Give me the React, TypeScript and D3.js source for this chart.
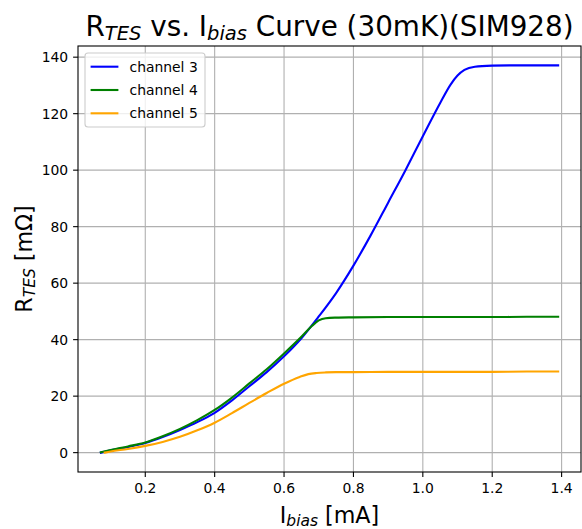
import React from "react";
import * as d3 from "d3";

// ---- data ----
const ibias3 = [0.072, 0.1, 0.15, 0.2, 0.25, 0.3, 0.35, 0.4, 0.45, 0.5, 0.55, 0.6, 0.65, 0.7, 0.75, 0.8, 0.85, 0.9, 0.95, 1.0, 1.05, 1.08, 1.1, 1.12, 1.15, 1.2, 1.25, 1.3, 1.35, 1.39];
const rtes3 = [0.0, 0.8, 2.0, 3.4, 5.5, 8.0, 10.8, 14.1, 18.5, 23.5, 28.5, 34.1, 40.5, 48.2, 56.5, 66.2, 77.0, 88.5, 100.0, 112.0, 123.8, 130.3, 133.5, 135.5, 136.6, 137.0, 137.1, 137.1, 137.1, 137.1];

const ibias4 = [0.072, 0.1, 0.15, 0.2, 0.25, 0.3, 0.35, 0.4, 0.45, 0.5, 0.55, 0.6, 0.65, 0.68, 0.7, 0.72, 0.75, 0.8, 0.9, 1.0, 1.1, 1.2, 1.3, 1.39];
const rtes4 = [0.1, 0.9, 2.2, 3.6, 5.8, 8.4, 11.5, 15.1, 19.5, 24.5, 29.5, 35.1, 41.0, 44.8, 46.8, 47.6, 47.8, 47.9, 48.0, 48.0, 48.0, 48.0, 48.1, 48.1];

const ibias5 = [0.083, 0.1, 0.15, 0.2, 0.25, 0.3, 0.35, 0.4, 0.45, 0.5, 0.55, 0.6, 0.645, 0.67, 0.694, 0.72, 0.75, 0.8, 0.9, 1.0, 1.1, 1.2, 1.3, 1.39];
const rtes5 = [0.0, 0.4, 1.3, 2.4, 3.8, 5.6, 7.9, 10.6, 14.0, 17.6, 21.1, 24.4, 26.8, 27.8, 28.2, 28.4, 28.5, 28.5, 28.6, 28.6, 28.6, 28.6, 28.7, 28.7];

const seriesNames = ["channel 3", "channel 4", "channel 5"];
const seriesColors = ["#0000ff", "#008000", "#ffa500"];

const xTicks = [0.2, 0.4, 0.6, 0.8, 1.0, 1.2, 1.4];
const xTickLabels = ["0.2", "0.4", "0.6", "0.8", "1.0", "1.2", "1.4"];
const yTicks = [0, 20, 40, 60, 80, 100, 120, 140];
const yTickLabels = ["0", "20", "40", "60", "80", "100", "120", "140"];

const W = 582;
const H = 529;
const left = 78;
const right = 581;
const top = 46;
const bottom = 472;

export default function App() {
  const allX = [...ibias3, ...ibias4, ...ibias5];
  const allY = [...rtes3, ...rtes4, ...rtes5];
  const [x0, x1] = d3.extent(allX) as [number, number];
  const [y0, y1] = d3.extent(allY) as [number, number];
  const px = (x1 - x0) * 0.05;
  const py = (y1 - y0) * 0.05;
  const x = d3.scaleLinear().domain([x0 - px, x1 + px]).range([left, right]);
  const y = d3.scaleLinear().domain([y0 - py, y1 + py]).range([bottom, top]);

  const series = [
    ibias3.map((v, i) => [v, rtes3[i]] as [number, number]),
    ibias4.map((v, i) => [v, rtes4[i]] as [number, number]),
    ibias5.map((v, i) => [v, rtes5[i]] as [number, number]),
  ];
  const line = d3
    .line<[number, number]>()
    .x((d) => x(d[0]))
    .y((d) => y(d[1]))
    .curve(d3.curveMonotoneX);

  const font = "'DejaVu Sans', sans-serif";
  const tickFs = 13.9;
  const gridColor = "#b0b0b0";

  return (
    <svg
      width={W}
      height={H}
      style={{ position: "absolute", left: 0, top: 0, background: "#fff" }}
      fontFamily={font}
    >
      <rect x={0} y={0} width={W} height={H} fill="#fff" />
      {/* grid */}
      <g>
        {xTicks.map((t) => (
          <line key={"gx" + t} x1={x(t)} x2={x(t)} y1={top} y2={bottom} stroke={gridColor} strokeWidth={1.1} />
        ))}
        {yTicks.map((t) => (
          <line key={"gy" + t} x1={left} x2={right} y1={y(t)} y2={y(t)} stroke={gridColor} strokeWidth={1.1} />
        ))}
      </g>
      {/* lines */}
      <g fill="none" strokeWidth={2.1} strokeLinejoin="round" strokeLinecap="square">
        {series.map((s, i) => (
          <path key={i} d={line(s) || ""} stroke={seriesColors[i]} />
        ))}
      </g>
      {/* spines */}
      <rect x={left} y={top} width={right - left} height={bottom - top} fill="none" stroke="#000" strokeWidth={1.1} />
      {/* x ticks */}
      <g>
        {xTicks.map((t, i) => (
          <g key={"xt" + t}>
            <line x1={x(t)} x2={x(t)} y1={bottom} y2={bottom + 4.9} stroke="#000" strokeWidth={1.1} />
            <text x={x(t)} y={bottom + 20.5} fontSize={tickFs} textAnchor="middle" fill="#000">
              {xTickLabels[i]}
            </text>
          </g>
        ))}
      </g>
      {/* y ticks */}
      <g>
        {yTicks.map((t, i) => (
          <g key={"yt" + t}>
            <line x1={left - 4.9} x2={left} y1={y(t)} y2={y(t)} stroke="#000" strokeWidth={1.1} />
            <text x={left - 9.8} y={y(t)} dy="0.36em" fontSize={tickFs} textAnchor="end" fill="#000">
              {yTickLabels[i]}
            </text>
          </g>
        ))}
      </g>
      {/* legend */}
      <g>
        <rect x={85} y={53} width={120} height={74} rx={3} fill="#fff" fillOpacity={0.8} stroke="#cccccc" strokeWidth={1.1} />
        {seriesNames.map((n, i) => {
          const cy = 66.7 + i * 23.3;
          return (
            <g key={n}>
              <line x1={90.6} x2={118.4} y1={cy} y2={cy} stroke={seriesColors[i]} strokeWidth={2.1} />
              <text x={129.5} y={cy} dy="0.36em" fontSize={13.9} fill="#000">
                {n}
              </text>
            </g>
          );
        })}
      </g>
      {/* title */}
      <text x={(left + right) / 2} y={36} fontSize={27.8} textAnchor="middle" fill="#000">
        <tspan>R</tspan>
        <tspan fontSize={19.5} fontStyle="italic" dy={3.5}>TES</tspan>
        <tspan dy={-3.5}> vs. I</tspan>
        <tspan fontSize={19.5} fontStyle="italic" dy={3.5}>bias</tspan>
        <tspan dy={-3.5}> Curve (30mK)(SIM928)</tspan>
      </text>
      {/* x label */}
      <text x={(left + right) / 2} y={523} fontSize={22.2} textAnchor="middle" fill="#000">
        <tspan>I</tspan>
        <tspan fontSize={15.5} fontStyle="italic" dy={3}>bias</tspan>
        <tspan dy={-3}> [mA]</tspan>
      </text>
      {/* y label */}
      <text
        transform={`translate(32, ${(top + bottom) / 2}) rotate(-90)`}
        fontSize={22.2}
        textAnchor="middle"
        fill="#000"
      >
        <tspan>R</tspan>
        <tspan fontSize={15.5} fontStyle="italic" dy={3}>TES</tspan>
        <tspan dy={-3}> [mΩ]</tspan>
      </text>
    </svg>
  );
}
